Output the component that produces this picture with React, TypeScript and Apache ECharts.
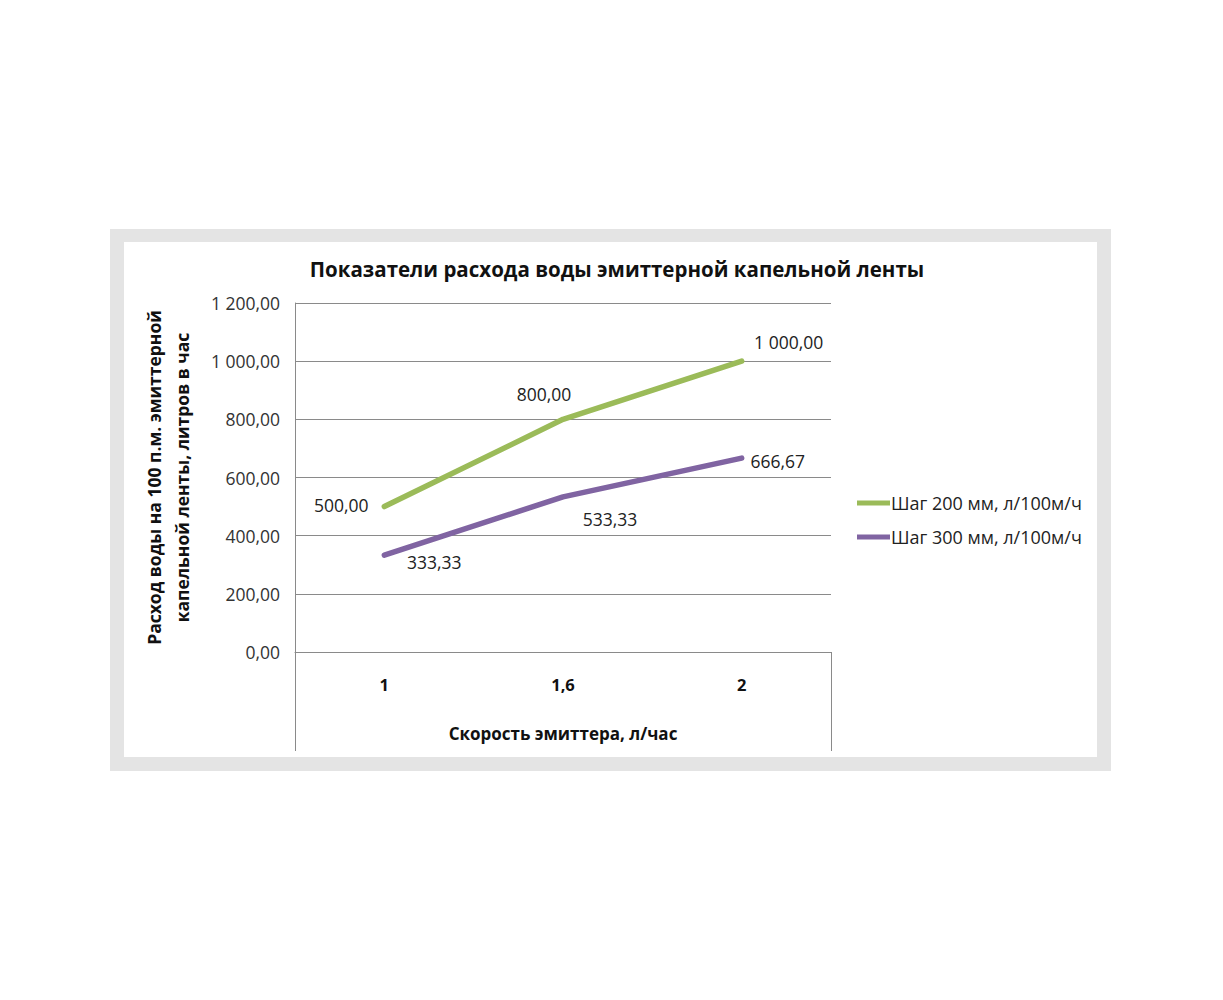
import React, { useEffect, useRef } from "react";
import * as echarts from "echarts";

const titleText = "Показатели расхода воды эмиттерной капельной ленты";
const categories = ["1", "1,6", "2"];
const seriesNames = ["Шаг 200 мм, л/100м/ч", "Шаг 300 мм, л/100м/ч"];
const step200 = [500, 800, 1000];
const step300 = [333.33, 533.33, 666.67];
const yAxisName = "Расход воды на 100 п.м. эмиттерной\nкапельной ленты, литров в час";
const xAxisName = "Скорость эмиттера, л/час";

const label200Offsets = [[-43, -2], [-19, -25], [47, -19]];
const label300Offsets = [[50, 7], [47, 22], [36, 3]];

const FONT = "'Open Sans', 'Noto Sans', sans-serif";
const FS = 17.5;

function fmt(v: number): string {
  const s = v.toFixed(2);
  const [intPart, dec] = s.split(".");
  const withSpaces = intPart.replace(/\B(?=(\d{3})+(?!\d))/g, " ");
  return withSpaces + "," + dec;
}

export default function App() {
  const ref = useRef<HTMLDivElement>(null);
  useEffect(() => {
    if (!ref.current) return;
    const chart = echarts.init(ref.current, null, { renderer: "svg" });
    const mkData = (vals: number[], offs: number[][]) =>
      vals.map((v, i) => ({
        value: v,
        label: { offset: offs[i] },
      }));
    chart.setOption({
      animation: false,
      backgroundColor: "#ffffff",
      graphic: [
        {
          type: "rect",
          shape: { x: 110, y: 229, width: 1001, height: 542 },
          style: { fill: "#e4e4e4" },
          z: -10,
        },
        {
          type: "rect",
          shape: { x: 124, y: 242, width: 973, height: 515 },
          style: { fill: "#ffffff" },
          z: -9,
        },
        {
          type: "line",
          shape: { x1: 295.5, y1: 652, x2: 295.5, y2: 751 },
          style: { stroke: "#8a8a8a", lineWidth: 1 },
        },
        {
          type: "line",
          shape: { x1: 831.5, y1: 652, x2: 831.5, y2: 751 },
          style: { stroke: "#8a8a8a", lineWidth: 1 },
        },
      ],
      title: {
        text: titleText,
        left: 612,
        top: 253,
        textAlign: "center",
        textStyle: { fontFamily: FONT, fontSize: 20.5, fontWeight: "bold", color: "#111" },
      },
      legend: {
        orient: "vertical",
        left: 852,
        top: 489,
        itemGap: 16,
        itemWidth: 33,
        itemHeight: 5,
        icon: "rect",
        data: seriesNames,
        textStyle: { fontFamily: FONT, fontSize: 18, color: "#222", padding: [0, 0, 0, -4] },
      },
      grid: { left: 295, top: 303, right: 392, bottom: 348, containLabel: false },
      xAxis: {
        type: "category",
        data: categories,
        boundaryGap: true,
        axisLine: { show: true, lineStyle: { color: "#8a8a8a" } },
        axisTick: { show: false },
        axisLabel: {
          margin: 24,
          fontFamily: FONT,
          fontSize: 16.5,
          fontWeight: "bold",
          color: "#111",
        },
        name: xAxisName,
        nameLocation: "middle",
        nameGap: 73,
        nameTextStyle: { fontFamily: FONT, fontSize: 17, fontWeight: "bold", color: "#111" },
        splitLine: { show: false },
      },
      yAxis: {
        type: "value",
        min: 0,
        max: 1200,
        interval: 200,
        axisLine: { show: true, lineStyle: { color: "#8a8a8a" } },
        axisTick: { show: false },
        axisLabel: {
          margin: 15,
          fontFamily: FONT,
          fontSize: FS,
          color: "#333",
          formatter: (v: number) => fmt(v),
        },
        splitLine: { show: true, lineStyle: { color: "#8a8a8a", width: 1 } },
        name: yAxisName,
        nameLocation: "middle",
        nameGap: 99,
        nameTextStyle: {
          fontFamily: FONT,
          fontSize: 17.5,
          fontWeight: "bold",
          color: "#111",
          lineHeight: 28,
          align: "center",
        },
      },
      series: [
        {
          name: seriesNames[0],
          type: "line",
          data: mkData(step200, label200Offsets),
          symbol: "circle",
          symbolSize: 1,
          color: "#9bbb59",
          lineStyle: { width: 5.5, color: "#9bbb59", cap: "round" },
          label: {
            show: true,
            position: "inside",
            fontFamily: FONT,
            fontSize: FS,
            color: "#222",
            formatter: (p: any) => fmt(p.value),
          },
        },
        {
          name: seriesNames[1],
          type: "line",
          data: mkData(step300, label300Offsets),
          symbol: "circle",
          symbolSize: 1,
          color: "#8064a2",
          lineStyle: { width: 5.5, color: "#8064a2", cap: "round" },
          label: {
            show: true,
            position: "inside",
            fontFamily: FONT,
            fontSize: FS,
            color: "#222",
            formatter: (p: any) => fmt(p.value),
          },
        },
      ],
    });
    return () => chart.dispose();
  }, []);
  return (
    <div
      ref={ref}
      style={{ position: "absolute", left: 0, top: 0, width: 1223, height: 1000 }}
    />
  );
}
